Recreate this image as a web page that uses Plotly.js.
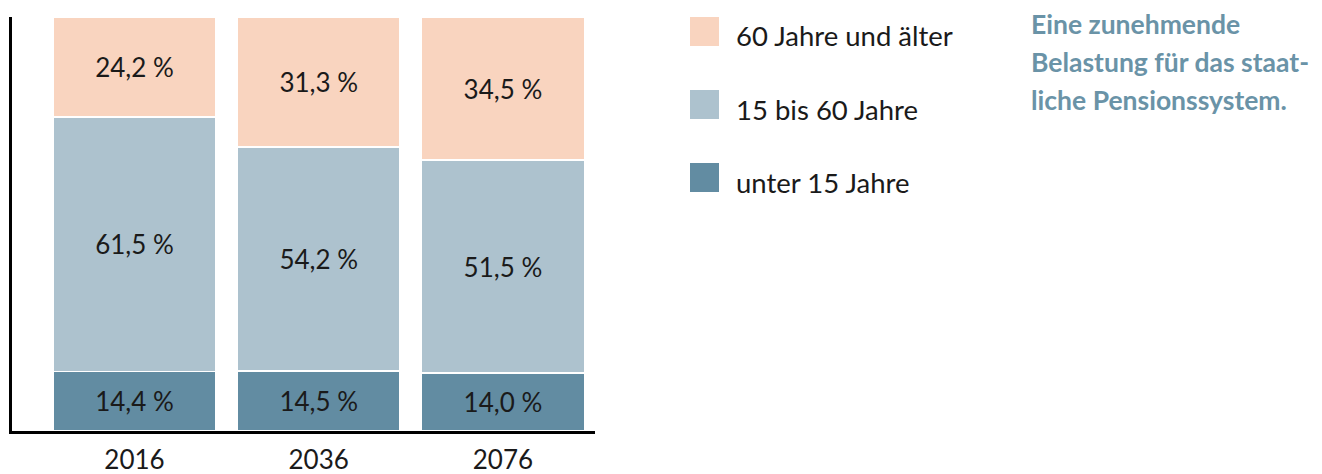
<!DOCTYPE html>
<html>
<head>
<meta charset="utf-8">
<script src="https://cdn.plot.ly/plotly-3.0.1.min.js"></script>
<style>html,body{margin:0;padding:0;background:#fff}#chart{width:1322px;height:474px}</style>
</head>
<body>
<div id="chart"></div>
<script>
const years = ['2016', '2036', '2076'];
const seriesNames = ['unter 15 Jahre', '15 bis 60 Jahre', '60 Jahre und älter'];
const under15 = [14.4, 14.5, 14.0];
const age15to60 = [61.5, 54.2, 51.5];
const age60plus = [24.2, 31.3, 34.5];
const colors = ['#628CA2', '#ADC2CE', '#F9D4BF'];
const noteLines = ['Eine zunehmende', 'Belastung für das staat-', 'liche Pensionssystem.'];

const W = 1322, H = 474;
const M = {l: 12, r: 727, t: 17, b: 43};
const pw = W - M.l - M.r, ph = H - M.t - M.b;
const px = x => (x - M.l) / pw;
const py = y => (H - M.b - y) / ph;

const fmt = v => v.toFixed(1).replace('.', ',') + ' %';
const FONT = 'Lato, "Open Sans", sans-serif';
const TXT = '#1a1a1a';

const seriesValues = [under15, age15to60, age60plus];
const traces = seriesValues.map((vals, i) => ({
  type: 'bar',
  x: years,
  y: vals,
  name: seriesNames[i],
  text: vals.map(fmt),
  textposition: 'inside',
  insidetextanchor: 'middle',
  textangle: 0,
  constraintext: 'none',
  textfont: {family: FONT, size: 26, color: TXT},
  marker: {color: colors[i], line: {color: '#ffffff', width: 1.5}},
  hoverinfo: 'skip',
  showlegend: false
}));

const shapes = [];
const annotations = [];
const legendOrder = [2, 1, 0];
legendOrder.forEach((si, k) => {
  const top = 17 + k * 73;
  shapes.push({type: 'rect', xref: 'paper', yref: 'paper',
    x0: px(690), x1: px(719), y0: py(top + 29), y1: py(top),
    fillcolor: colors[si], line: {width: 0}});
  annotations.push({xref: 'paper', yref: 'paper', x: px(734), y: py(top + 19),
    xanchor: 'left', yanchor: 'middle', showarrow: false, text: seriesNames[si],
    font: {family: FONT, size: 27.5, color: TXT}});
});
noteLines.forEach((t, k) => {
  annotations.push({xref: 'paper', yref: 'paper', x: px(1029), y: py(24 + k * 38),
    xanchor: 'left', yanchor: 'middle', showarrow: false, text: '<b>' + t + '</b>',
    font: {family: FONT, size: 26.5, color: '#6A93A7'}});
});

const layout = {
  width: W, height: H,
  margin: M,
  paper_bgcolor: '#fff', plot_bgcolor: '#fff',
  barmode: 'stack',
  bargap: 0.115,
  font: {family: FONT, size: 26, color: TXT},
  xaxis: {type: 'category', range: [-0.665, 2.5], showline: true, linewidth: 3, linecolor: '#000',
    ticks: '', showgrid: false, zeroline: false, tickfont: {family: FONT, size: 26, color: TXT},
    ticklabelstandoff: 4},
  yaxis: {range: [0, 100.1], showline: true, linewidth: 3, linecolor: '#000', showgrid: false,
    zeroline: false, showticklabels: false, ticks: ''},
  shapes: shapes,
  annotations: annotations
};

Plotly.newPlot('chart', traces, layout, {displayModeBar: false, staticPlot: true});
</script>
</body>
</html>
